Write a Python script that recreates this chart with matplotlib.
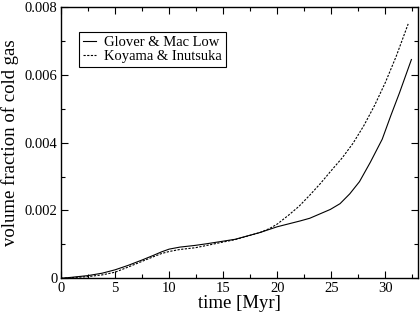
import matplotlib
matplotlib.use("Agg")
import matplotlib.pyplot as plt
from matplotlib.ticker import MultipleLocator, FuncFormatter

# values
t_glover = [0, 1, 2.5, 3.8, 5, 6.2, 7.5, 8.5, 9.3, 10, 11, 12.4, 13.5, 14.7,
            16.1, 18.4, 20, 22.1, 23.0, 24.9, 25.8, 26.7, 27.6, 28.6, 29.7,
            30.5, 31.3, 32.4]
v_glover = [0, 0.00003, 0.00008, 0.00015, 0.00025, 0.00038, 0.00054, 0.00067,
            0.00078, 0.00086, 0.00092, 0.00097, 0.00102, 0.00108, 0.00115,
            0.00135, 0.00152, 0.00169, 0.00177, 0.00203, 0.0022, 0.00249,
            0.00285, 0.00342, 0.0041, 0.0048, 0.00547, 0.00645]

t_koyama = [0, 2.5, 3.8, 5, 6.2, 7.5, 8.5, 9.3, 10, 11, 12.4, 13.5, 14.7,
            16.1, 18.4, 19.3, 20, 21, 22, 23, 24, 25, 26, 27, 28, 29, 30, 31,
            32.1]
v_koyama = [0, 0.00005, 0.0001, 0.00018, 0.00033, 0.0005, 0.00063, 0.00073,
            0.00079, 0.00085, 0.0009, 0.00097, 0.00105, 0.00114, 0.00135,
            0.00147, 0.0016, 0.00185, 0.00212, 0.00245, 0.0028, 0.00318,
            0.00355, 0.00398, 0.0045, 0.0051, 0.00578, 0.00655, 0.0075]

plt.rcParams['font.family'] = 'Liberation Serif'

fig = plt.figure(figsize=(4.2, 3.16), dpi=100)
ax = fig.add_axes([0.1452, 0.1193, 0.8498, 0.8587])

ax.plot(t_glover, v_glover, color='black', lw=0.8, label='Glover & Mac Low')
ax.plot(t_koyama, v_koyama, color='black', lw=0.8, ls=(0, (2, 1.3)),
        label='Koyama & Inutsuka')

ax.set_xlim(0, 33)
ax.set_ylim(0, 0.008)
ax.xaxis.set_major_locator(MultipleLocator(5))
ax.xaxis.set_minor_locator(MultipleLocator(2.5))
ax.yaxis.set_major_locator(MultipleLocator(0.002))
ax.yaxis.set_minor_locator(MultipleLocator(0.001))
ax.yaxis.set_major_formatter(FuncFormatter(lambda v, p: '0' if v == 0 else '%.3f' % v))

ax.tick_params(which='both', direction='in', top=True, right=True,
               labelsize=10.5, width=0.8, pad=2.5)
ax.tick_params(which='major', length=5)
ax.tick_params(which='minor', length=3)
for s in ax.spines.values():
    s.set_linewidth(1.0)

ax.set_xlabel('time [Myr]', fontsize=13.5, labelpad=0)
ax.set_ylabel('volume fraction of cold gas', fontsize=13.5, labelpad=4)

leg = ax.legend(loc='upper left', bbox_to_anchor=(0.05, 0.908), borderaxespad=0,
                fontsize=10.5, handlelength=0.85, handletextpad=0.6,
                labelspacing=0.0, borderpad=0.3, fancybox=False,
                framealpha=1, edgecolor='black')
leg.get_frame().set_linewidth(0.8)

fig.savefig('out.png', dpi=100)
